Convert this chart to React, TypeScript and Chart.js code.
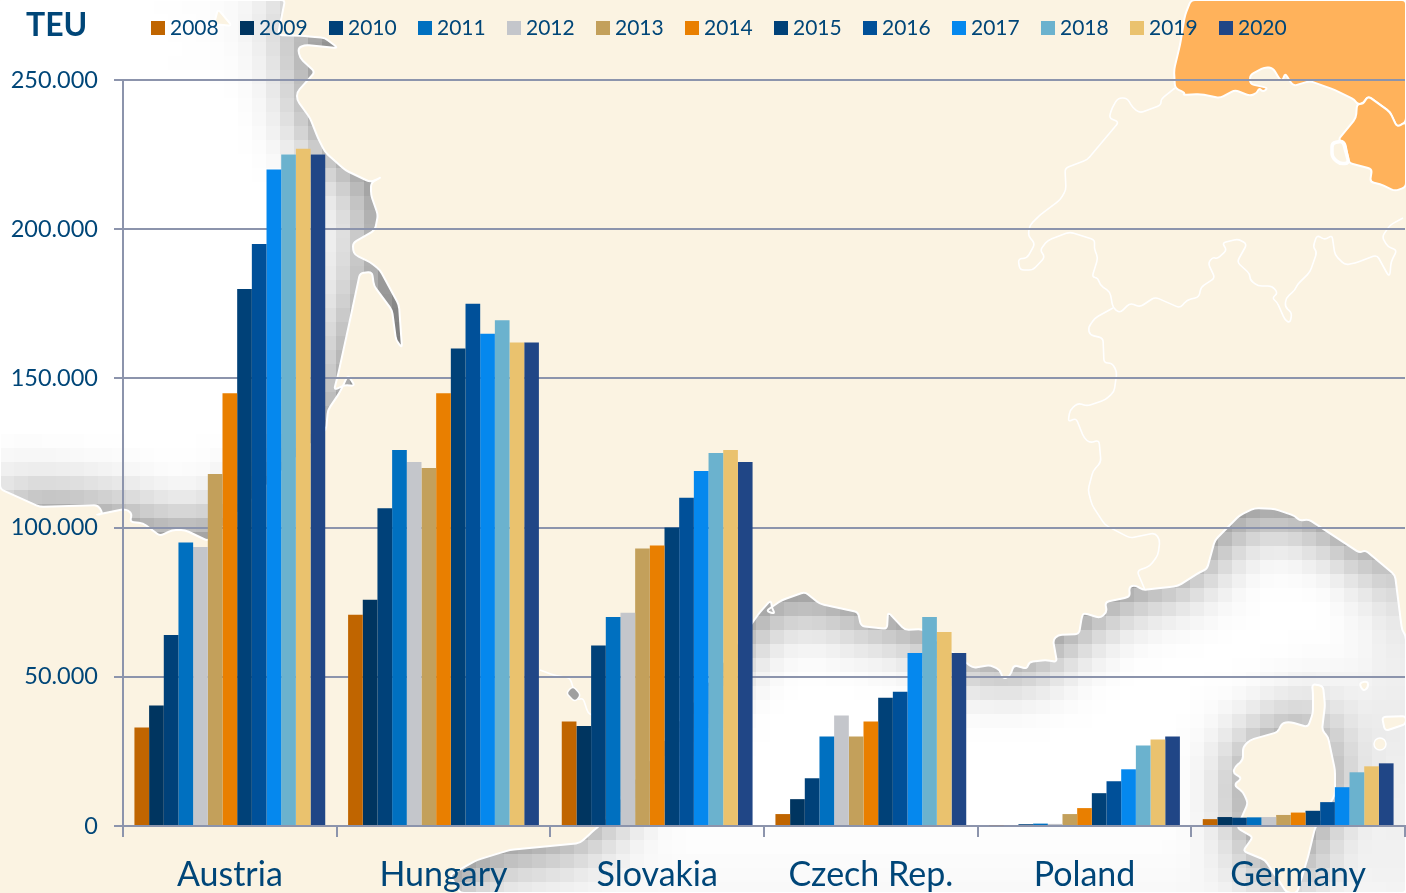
import React, { useEffect, useRef } from "react";
import { Chart, registerables } from "chart.js";

Chart.register(...registerables);

const categories = ["Austria", "Hungary", "Slovakia", "Czech Rep.", "Poland", "Germany"];
const years = ["2008", "2009", "2010", "2011", "2012", "2013", "2014", "2015", "2016", "2017", "2018", "2019", "2020"];
const colors = ["#C06500", "#003560", "#004179", "#0070C0", "#C4C6CB", "#C3A05B", "#E97F00", "#004178", "#005099", "#0588EE", "#6BB2CE", "#EAC26E", "#204686"];

const v2008 = [33000, 70800, 35000, 4000, 300, 2300];
const v2009 = [40400, 75800, 33500, 9000, 0, 3000];
const v2010 = [64000, 106500, 60500, 16000, 600, 2800];
const v2011 = [95000, 126000, 70000, 30000, 800, 2900];
const v2012 = [93500, 122000, 71500, 37000, 700, 3000];
const v2013 = [118000, 120000, 93000, 30000, 4000, 3700];
const v2014 = [145000, 145000, 94000, 35000, 6000, 4500];
const v2015 = [180000, 160000, 100000, 43000, 11000, 5100];
const v2016 = [195000, 175000, 110000, 45000, 15000, 8000];
const v2017 = [220000, 165000, 119000, 58000, 19000, 13000];
const v2018 = [225000, 169500, 125000, 70000, 27000, 18000];
const v2019 = [227000, 162000, 126000, 65000, 29000, 20000];
const v2020 = [225000, 162000, 122000, 58000, 30000, 21000];
const seriesValues = [v2008, v2009, v2010, v2011, v2012, v2013, v2014, v2015, v2016, v2017, v2018, v2019, v2020];

type P = number[];
const W = 1406;
const H = 893;
const CREAM = "#FBF3E2";
const ORANGE = "#FFB25B";
const TEXT = "#004678";
const GRID = "#8C94AC";
const FONT = "Lato";

const seaNorth: P[] = [[0,0],[285,0],[278,35],[305,36],[325,38],[338,48],[305,45],[298,48],[300,58],[315,72],[308,80],[297,92],[297,100],[310,118],[318,138],[325,152],[345,170],[370,182],[378,179],[381,177],[371,183],[371,195],[378,215],[375,230],[353,243],[353,250],[355,255],[370,262],[380,270],[399,305],[402,348],[396,340],[392,310],[374,286],[372,272],[360,273],[350,320],[338,375],[334,390],[345,385],[355,386],[348,375],[340,392],[328,410],[326,430],[208,541],[185,530],[172,530],[160,536],[143,523],[130,522],[132,513],[125,509],[95,515],[103,514],[98,505],[40,507],[0,489]];
const seaSouth: P[] = [[750,626],[760,612],[771,600],[772,608],[775,614],[766,611],[782,600],[805,592],[820,604],[858,612],[861,626],[887,629],[888,612],[905,630],[922,629],[973,668],[990,665],[1000,670],[1003,679],[1010,676],[1014,665],[1027,669],[1029,662],[1046,660],[1057,662],[1053,640],[1058,635],[1079,634],[1082,616],[1084,613],[1100,618],[1107,612],[1105,602],[1125,598],[1130,596],[1129,587],[1135,585],[1143,590],[1178,586],[1200,572],[1207,569],[1215,540],[1240,515],[1255,508],[1275,509],[1295,516],[1300,521],[1308,519],[1360,553],[1365,550],[1395,575],[1402,630],[1406,636],[1406,893],[460,893],[450,875],[477,860],[500,853],[510,850],[580,843],[592,832],[600,825]];
const islandCorsica: P[] = [[1312,684],[1323,686],[1325,705],[1322,730],[1328,737],[1335,770],[1335,795],[1315,828],[1308,857],[1297,893],[1287,893],[1265,860],[1243,851],[1253,837],[1237,828],[1248,803],[1243,792],[1234,785],[1242,778],[1233,773],[1235,767],[1243,760],[1243,747],[1250,740],[1278,732],[1282,723],[1290,722],[1308,727],[1313,713],[1313,693]];
const islandSmall1: P[] = [[1359,683],[1368,681],[1368,688],[1363,691]];
const islandSmall2: P[] = [[1382,717],[1406,716],[1406,724],[1385,731]];
const islandSmall3: P[] = [[218,9],[232,26],[214,24]];
const orangeNorth: P[] = [[1191,0],[1185,15],[1180,45],[1174,70],[1175,88],[1185,93],[1183,95],[1200,94],[1220,98],[1235,90],[1250,96],[1257,93],[1259,88],[1263,92],[1268,88],[1250,84],[1250,75],[1265,67],[1273,68],[1280,80],[1283,80],[1285,73],[1293,86],[1310,81],[1335,90],[1355,100],[1357,104],[1363,104],[1368,96],[1390,112],[1397,127],[1406,122],[1406,0]];
const orangeEast: P[] = [[1357,104],[1363,104],[1368,96],[1390,112],[1397,127],[1406,122],[1406,187],[1395,191],[1380,184],[1370,182],[1372,169],[1349,163],[1345,142],[1338,140],[1356,118]];
const blob: P[] = [[1332,143],[1343,141],[1349,163],[1340,164],[1332,157]];
const borderSwiss: P[] = [[1175,88],[1161,99],[1161,105],[1140,113],[1133,108],[1127,98],[1118,98],[1112,108],[1109,118],[1119,122],[1087,160],[1065,168],[1066,190],[1060,200],[1040,215],[1030,225],[1028,235],[1035,244],[1027,258],[1018,259],[1020,270],[1033,270],[1045,257],[1040,250],[1048,240],[1070,232],[1095,240],[1094,248],[1098,258],[1092,277],[1098,278],[1100,285],[1110,292],[1113,308],[1120,313],[1130,303],[1140,307],[1155,297],[1180,308],[1187,300],[1199,297],[1201,287],[1215,278],[1208,263],[1213,257],[1217,259],[1227,250],[1222,243],[1238,239],[1247,244],[1237,262],[1250,274],[1250,280],[1258,286],[1272,286],[1278,293],[1272,298],[1277,302],[1285,320],[1290,323],[1292,313],[1285,307],[1286,298],[1295,290],[1297,285],[1310,272],[1317,252],[1313,247],[1317,235],[1325,240],[1332,235],[1335,255],[1345,265],[1355,263],[1377,255],[1388,275],[1390,275],[1391,262],[1397,250],[1388,247],[1382,237],[1390,225],[1403,218]];
const borderItaly: P[] = [[1113,308],[1095,318],[1088,328],[1090,335],[1103,338],[1104,363],[1112,363],[1117,372],[1114,392],[1105,400],[1087,406],[1078,403],[1070,410],[1068,422],[1076,418],[1084,438],[1090,443],[1099,440],[1101,462],[1093,471],[1088,490],[1092,505],[1105,525],[1130,538],[1155,533],[1160,540],[1158,555],[1150,566],[1137,571],[1145,590]];
const borderEast: P[] = [[540,670],[553,675],[570,678],[577,700],[583,698],[588,713],[592,715]];
const islandGrey: P[] = [[566,693],[573,686],[581,695],[575,702]];

function corner(ctx: CanvasRenderingContext2D, a: P, p: P, b: P, first: boolean) {
  const r = 4;
  const la = Math.hypot(a[0] - p[0], a[1] - p[1]) || 1;
  const lb = Math.hypot(b[0] - p[0], b[1] - p[1]) || 1;
  const ta = Math.min(r / la, 0.5);
  const tb = Math.min(r / lb, 0.5);
  const sx = p[0] + (a[0] - p[0]) * ta;
  const sy = p[1] + (a[1] - p[1]) * ta;
  if (first) ctx.moveTo(sx, sy);
  else ctx.lineTo(sx, sy);
  ctx.quadraticCurveTo(p[0], p[1], p[0] + (b[0] - p[0]) * tb, p[1] + (b[1] - p[1]) * tb);
}

function path(ctx: CanvasRenderingContext2D, pts: P[], close = true) {
  ctx.beginPath();
  const n = pts.length;
  if (close) {
    for (let i = 0; i < n; i++) corner(ctx, pts[(i + n - 1) % n], pts[i], pts[(i + 1) % n], i === 0);
    ctx.closePath();
  } else {
    ctx.moveTo(pts[0][0], pts[0][1]);
    for (let i = 1; i < n - 1; i++) corner(ctx, pts[i - 1], pts[i], pts[i + 1], false);
    ctx.lineTo(pts[n - 1][0], pts[n - 1][1]);
  }
}

const islands = [islandCorsica, islandSmall1, islandSmall2];

function drawHalo(): HTMLCanvasElement {
  const cell = 14;
  const lw = Math.ceil(W / cell);
  const lh = Math.ceil(H / cell);
  const low = document.createElement("canvas");
  low.width = lw;
  low.height = lh;
  const l = low.getContext("2d")!;
  l.fillStyle = "#707070";
  l.fillRect(0, 0, lw, lh);
  l.scale(1 / cell, 1 / cell);
  l.fillStyle = "#ffffff";
  [seaNorth, seaSouth].forEach((s) => { path(l, s); l.fill(); });
  l.fillStyle = "#707070";
  [...islands, islandSmall3].forEach((s) => { path(l, s); l.fill(); });
  const out = document.createElement("canvas");
  out.width = lw;
  out.height = lh;
  const o = out.getContext("2d")!;
  o.fillStyle = "#fff";
  o.fillRect(0, 0, lw, lh);
  o.filter = "blur(2px)";
  o.drawImage(low, 0, 0);
  return out;
}

const mapPlugin = {
  id: "mapBackground",
  beforeDraw(chart: any) {
    const c: CanvasRenderingContext2D = chart.ctx;
    c.save();
    c.fillStyle = CREAM;
    c.fillRect(0, 0, W, H);
    const halo = drawHalo();
    [seaNorth, seaSouth].forEach((s) => {
      c.save();
      path(c, s);
      c.clip();
      c.imageSmoothingEnabled = false;
      c.drawImage(halo, 0, 0, halo.width * 14, halo.height * 14);
      c.restore();
    });
    c.lineJoin = "round";
    c.strokeStyle = "#ffffff";
    c.lineWidth = 2;
    c.fillStyle = CREAM;
    [...islands, islandSmall3].forEach((s) => { path(c, s); c.fill(); c.stroke(); });
    [seaNorth, seaSouth].forEach((s) => { path(c, s); c.stroke(); });
    c.fillStyle = ORANGE;
    [orangeNorth, orangeEast].forEach((s) => { path(c, s); c.fill(); c.stroke(); });
    c.lineWidth = 1.6;
    [borderSwiss, borderItaly, borderEast].forEach((s) => { path(c, s, false); c.stroke(); });
    c.fillStyle = CREAM;
    c.lineWidth = 3.5;
    path(c, blob); c.fill(); c.stroke();
    c.fillStyle = "#A0A0A0";
    c.lineWidth = 1.5;
    path(c, islandGrey); c.fill(); c.stroke();
    c.beginPath();
    c.arc(1380, 744, 6, 0, Math.PI * 2);
    c.fillStyle = CREAM;
    c.fill();
    c.stroke();
    c.restore();
  },
};

const legendPlugin = {
  id: "topLegend",
  afterDraw(chart: any) {
    const c: CanvasRenderingContext2D = chart.ctx;
    c.save();
    c.fillStyle = TEXT;
    c.font = `bold 32px ${FONT}`;
    c.textBaseline = "middle";
    c.textAlign = "left";
    c.fillText("TEU", 26, 26);
    c.font = `21px ${FONT}`;
    chart.data.datasets.forEach((d: any, i: number) => {
      const x = 151 + i * 89;
      c.fillStyle = d.backgroundColor;
      c.fillRect(x, 21, 14, 14);
      c.fillStyle = TEXT;
      c.fillText(d.label, x + 19, 28);
    });
    c.restore();
  },
};

export default function App() {
  const ref = useRef<HTMLCanvasElement>(null);
  useEffect(() => {
    const chart = new Chart(ref.current!, {
      type: "bar",
      data: {
        labels: categories,
        datasets: years.map((y, i) => ({
          label: y,
          data: seriesValues[i],
          backgroundColor: colors[i],
          borderWidth: 0,
          barPercentage: 1,
          categoryPercentage: 0.893,
        })),
      },
      options: {
        responsive: false,
        animation: false,
        devicePixelRatio: 1,
        layout: { padding: { top: 80, right: 1, left: 0, bottom: 0 } },
        plugins: { legend: { display: false }, title: { display: false }, tooltip: { enabled: false } },
        scales: {
          x: {
            afterFit: (s: any) => { s.height = 67; },
            border: { color: GRID, width: 2 },
            grid: { drawOnChartArea: false, color: GRID, lineWidth: 2, tickLength: 11 },
            ticks: { color: TEXT, font: { family: FONT, size: 34 }, padding: 18, maxRotation: 0, autoSkip: false },
          },
          y: {
            min: 0,
            max: 250000,
            afterFit: (s: any) => { s.width = 123; },
            border: { color: GRID, width: 2 },
            grid: { color: GRID, lineWidth: 2, tickLength: 9 },
            ticks: {
              color: TEXT,
              font: { family: FONT, size: 23.5 },
              padding: 16,
              stepSize: 50000,
              callback: (v: any) => Number(v).toLocaleString("de-DE"),
            },
          },
        },
      },
      plugins: [mapPlugin, legendPlugin],
    } as any);
    return () => chart.destroy();
  }, []);
  return (
    <div style={{ position: "absolute", left: 0, top: 0, width: W, height: H, overflow: "hidden" }}>
      <canvas ref={ref} width={W} height={H} style={{ display: "block" }} />
    </div>
  );
}
